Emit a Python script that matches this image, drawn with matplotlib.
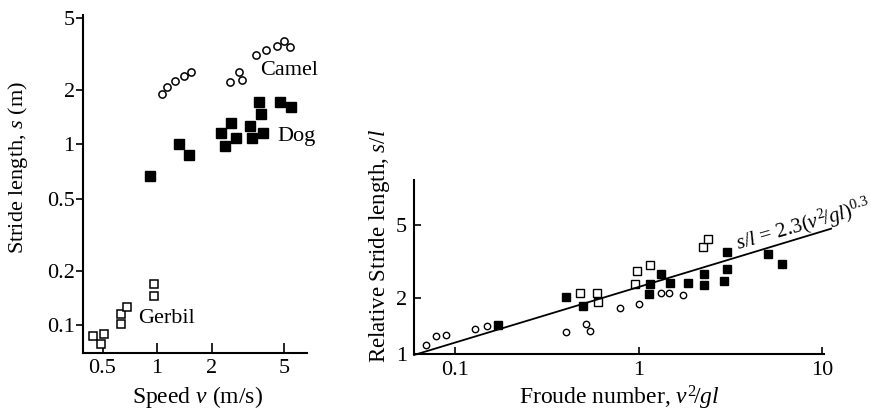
import numpy as np
import matplotlib
matplotlib.use('Agg')
import matplotlib.pyplot as plt

plt.rcParams['font.family'] = ['Liberation Serif', 'DejaVu Serif']
plt.rcParams['mathtext.fontset'] = 'custom'
plt.rcParams['mathtext.rm'] = 'Liberation Serif'
plt.rcParams['mathtext.it'] = 'Liberation Serif:italic'

# left panel: speed (m/s) vs stride length (m)
camel_v = [1.06, 1.13, 1.26, 1.41, 1.54, 2.52, 2.82, 2.93, 3.50, 3.97, 4.56, 4.99, 5.38]
camel_s = [1.89, 2.07, 2.23, 2.38, 2.53, 2.20, 2.50, 2.26, 3.14, 3.31, 3.52, 3.71, 3.44]
dog_v = [0.915, 1.32, 1.50, 2.25, 2.36, 2.55, 2.72, 3.24, 3.33, 3.63, 3.73, 3.82, 4.74, 5.45]
dog_s = [0.666, 1.00, 0.87, 1.16, 0.975, 1.32, 1.09, 1.27, 1.09, 1.71, 1.47, 1.16, 1.71, 1.60]
gerbil_v = [0.445, 0.49, 0.51, 0.63, 0.63, 0.68, 0.96, 0.96]
gerbil_s = [0.087, 0.0786, 0.089, 0.101, 0.115, 0.126, 0.145, 0.169]

# right panel: Froude number vs relative stride length
circ_fr = [0.0697, 0.079, 0.089, 0.129, 0.150, 0.40, 0.52, 0.54, 0.79, 1.0, 1.33, 1.46, 1.75]
circ_sl = [1.12, 1.25, 1.26, 1.37, 1.42, 1.31, 1.45, 1.33, 1.78, 1.86, 2.14, 2.14, 2.08]
fill_fr = [0.172, 0.40, 0.50, 1.16, 1.14, 1.32, 1.48, 1.86, 2.27, 2.27, 2.91, 3.03, 3.05, 5.05, 6.04]
fill_sl = [1.43, 2.03, 1.81, 2.39, 2.11, 2.72, 2.42, 2.42, 2.72, 2.36, 2.49, 2.89, 3.55, 3.47, 3.06]
open_fr = [0.48, 0.59, 0.60, 0.98, 0.96, 1.16, 2.24, 2.39]
open_sl = [2.13, 2.14, 1.90, 2.81, 2.39, 3.02, 3.77, 4.20]
FIT_A = 2.3
FIT_B = 0.3
fit_x = [0.0597, 11.2]

fig = plt.figure(figsize=(8.77, 4.13), dpi=100)

# ---- left
ax1 = fig.add_axes([0.0946, 0.1453, 0.2554, 0.8184])
ax1.plot(camel_v, camel_s, 'o', mfc='white', mec='black', ms=5.2, mew=1.1)
ax1.plot(dog_v, dog_s, 's', color='black', ms=6.5)
ax1.plot(gerbil_v, gerbil_s, 's', mfc='white', mec='black', ms=5.5, mew=1.1)
ax1.set_xscale('log')
ax1.set_yscale('log')
ax1.set_xlim(0.39, 6.7)
ax1.set_ylim(0.07, 5.2)
ax1.set_xticks([0.5, 1, 2, 5], ['0.5', '1', '2', '5'])
ax1.set_yticks([0.1, 0.2, 0.5, 1, 2, 5], ['0.1', '0.2', '0.5', '1', '2', '5'])
ax1.minorticks_off()
ax1.tick_params(axis='x', direction='in', length=7, width=1.2, pad=4, labelsize=16)
ax1.tick_params(axis='y', direction='out', length=5, width=1.2, pad=1, labelsize=16)
ax1.text(3.68, 2.41, 'Camel', fontsize=16)
ax1.text(4.62, 1.05, 'Dog', fontsize=16)
ax1.text(0.787, 0.1026, 'Gerbil', fontsize=16)
ax1.set_xlabel('Speed $v$ (m/s)', fontsize=17)
ax1.set_ylabel('Stride length, $s$ (m)', fontsize=16)
ax1.yaxis.set_label_coords(-0.235, 0.55)
ax1.xaxis.set_label_coords(0.51, -0.092)

# ---- right
ax2 = fig.add_axes([0.4721, 0.1429, 0.4675, 0.4213])
ax2.plot(circ_fr, circ_sl, 'o', mfc='white', mec='black', ms=4.6, mew=1.0)
ax2.plot(fill_fr, fill_sl, 's', color='black', ms=5.5)
ax2.plot(open_fr, open_sl, 's', mfc='white', mec='black', ms=5.2, mew=1.0)
fx = np.array(fit_x)
ax2.plot(fx, FIT_A * fx ** FIT_B, color='black', lw=1.3, clip_on=False)
ax2.set_xscale('log')
ax2.set_yscale('log')
ax2.set_xlim(0.0597, 10.25)
ax2.set_ylim(1, 8.7)
ax2.set_xticks([0.1, 1, 10], ['0.1', '1', '10'])
ax2.set_yticks([1, 2, 5], ['1', '2', '5'])
ax2.minorticks_off()
ax2.tick_params(axis='both', direction='in', length=5, width=1.2, labelsize=16)
ax2.tick_params(axis='x', pad=5)
ax2.tick_params(axis='y', pad=5)
ax2.text(3.48, 3.62, '$s/l$ = 2.3($v^2\\!/gl$)$^{0.3}$', fontsize=15,
         rotation=16, rotation_mode='anchor', ha='left', va='baseline')
ax2.set_xlabel('Froude number, $v^2\\!/gl$', fontsize=17)
ax2.set_ylabel('Relative Stride length, $s/l$', fontsize=16.5)
ax2.yaxis.set_label_coords(-0.054, 0.62)
ax2.xaxis.set_label_coords(0.5, -0.17)

for ax in (ax1, ax2):
    ax.spines['top'].set_visible(False)
    ax.spines['right'].set_visible(False)
    ax.spines['left'].set_linewidth(1.5)
    ax.spines['bottom'].set_linewidth(1.5)

fig.savefig('out.png', dpi=100)
